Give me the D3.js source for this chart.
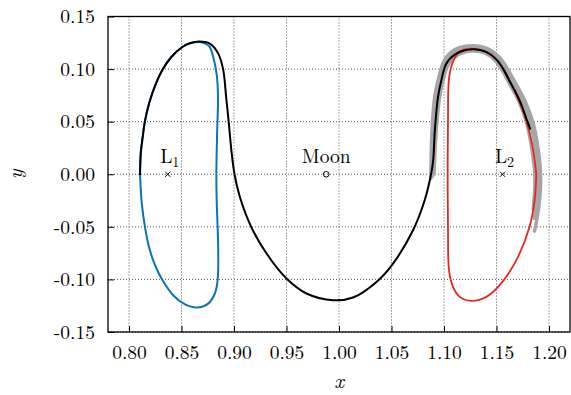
<!DOCTYPE html>
<html>
<head>
<meta charset="utf-8">
<script src="https://cdn.jsdelivr.net/npm/d3@7"></script>
<style>
  body { margin: 0; background: #fff; }
  svg text { font-family: "Latin Modern Roman", "Liberation Serif", serif; fill: #000; }
</style>
</head>
<body>
<figure id="orbits" style="margin:0"></figure>
<script>
// tick values
const xTicks = [0.80, 0.85, 0.90, 0.95, 1.00, 1.05, 1.10, 1.15, 1.20];
const yTicks = [-0.15, -0.10, -0.05, 0.00, 0.05, 0.10, 0.15];

// points of interest
const points = [
  {name: "L", sub: "1", x: 0.8369, y: 0, mark: "cross"},
  {name: "Moon", sub: "", x: 0.98785, y: 0, mark: "circle"},
  {name: "L", sub: "2", x: 1.1557, y: 0, mark: "cross"}
];

// periodic orbit around L1 (blue)
const orbitL1 = [
  [0.8105, 0.0], [0.8112, 0.020], [0.8130, 0.035], [0.8151, 0.050], [0.8193, 0.068],
  [0.8256, 0.0862], [0.8323, 0.100], [0.8403, 0.1115], [0.8508, 0.121], [0.8580, 0.1245],
  [0.8659, 0.1258], [0.8720, 0.1245], [0.8765, 0.1215], [0.8802, 0.1115], [0.8834, 0.0957],
  [0.8848, 0.0735], [0.8840, 0.042], [0.8832, 0.0], [0.8836, -0.028], [0.8844, -0.050],
  [0.8850, -0.0754], [0.8844, -0.1008], [0.8818, -0.1134], [0.8754, -0.1230], [0.8644, -0.1267],
  [0.8530, -0.1235], [0.8421, -0.1150], [0.8320, -0.1008], [0.8250, -0.087], [0.8190, -0.069],
  [0.8152, -0.050], [0.8122, -0.028], [0.8105, 0.0]
];

// periodic orbit around L2 (red)
const orbitL2 = [
  [1.1879, 0.0], [1.1863, -0.0247], [1.1815, -0.050], [1.1689, -0.0817], [1.1530, -0.1055],
  [1.1403, -0.1166], [1.1260, -0.1204], [1.1150, -0.1166], [1.1086, -0.1071], [1.1048, -0.0913],
  [1.1038, -0.050], [1.1035, 0.0], [1.1038, 0.050], [1.1048, 0.0913], [1.1086, 0.1071],
  [1.1150, 0.1166], [1.1260, 0.1195], [1.1403, 0.1160], [1.1520, 0.1070], [1.1640, 0.0860],
  [1.1760, 0.0580], [1.1840, 0.0280], [1.1879, 0.0]
];

// transfer trajectory (black)
const transfer = [
  [0.8105, 0.0], [0.8112, 0.020], [0.8130, 0.035], [0.8151, 0.050], [0.8193, 0.068],
  [0.8256, 0.0862], [0.8323, 0.100], [0.8403, 0.1115], [0.8508, 0.121], [0.8580, 0.1245],
  [0.8665, 0.1262], [0.8770, 0.1242], [0.8850, 0.1147], [0.8897, 0.0995], [0.8925, 0.0735],
  [0.8950, 0.0494], [0.8975, 0.0228], [0.9005, 0.0], [0.9056, -0.0216], [0.9167, -0.0507],
  [0.9310, -0.0754], [0.9500, -0.0992], [0.9690, -0.1134], [0.9944, -0.1198], [1.0134, -0.1172],
  [1.0357, -0.1024], [1.0515, -0.0849], [1.0705, -0.0532], [1.0816, -0.0247], [1.0878, 0.0007],
  [1.0897, 0.0133], [1.0913, 0.0418], [1.0943, 0.0735], [1.0975, 0.0894], [1.1022, 0.1052],
  [1.1118, 0.1147], [1.1276, 0.1188], [1.1403, 0.1163], [1.1500, 0.1090], [1.1567, 0.0995],
  [1.1620, 0.0894], [1.1720, 0.0703], [1.1795, 0.0500], [1.1820, 0.0434]
];

// neighbouring trajectories (gray)
const grayA = [
  [1.0875, -0.004], [1.0885, 0.040], [1.0912, 0.074], [1.0952, 0.0925], [1.1005, 0.1085],
  [1.1105, 0.1185], [1.1276, 0.1222], [1.1415, 0.1195], [1.1525, 0.1115], [1.1600, 0.1010],
  [1.1660, 0.0905], [1.1765, 0.0710], [1.1845, 0.0500], [1.1895, 0.0250], [1.1920, 0.0],
  [1.1910, -0.0250], [1.1880, -0.0450], [1.1862, -0.0540]
];
const grayB = [
  [1.0890, -0.002], [1.0905, 0.040], [1.0935, 0.0740], [1.0970, 0.0905], [1.1020, 0.1065],
  [1.1115, 0.1163], [1.1276, 0.1202], [1.1408, 0.1177], [1.1510, 0.1100], [1.1582, 0.1000],
  [1.1640, 0.0898], [1.1742, 0.0705], [1.1820, 0.0500], [1.1870, 0.0250], [1.1895, 0.0],
  [1.1885, -0.0230], [1.1860, -0.0420]
];
const grayC = [
  [1.0905, 0.000], [1.0925, 0.040], [1.0958, 0.0735], [1.0990, 0.0885], [1.1040, 0.1040],
  [1.1130, 0.1135], [1.1276, 0.1172], [1.1398, 0.1148], [1.1490, 0.1078], [1.1557, 0.0985],
  [1.1610, 0.0885], [1.1710, 0.0700], [1.1785, 0.0500], [1.1835, 0.0250], [1.1865, 0.0],
  [1.1862, -0.0180], [1.1850, -0.0330]
];

const W = 571, H = 395;
const margin = {left: 108, right: 1, top: 16.5, bottom: 63};
const width = W - margin.left - margin.right;
const height = H - margin.top - margin.bottom;
const serif = '"Latin Modern Roman", "Liberation Serif", serif';

const svg = d3.select("figure#orbits")
  .append("svg")
  .attr("width", W)
  .attr("height", H);

const x = d3.scaleLinear().domain([0.78, 1.22]).range([margin.left, margin.left + width]);
const y = d3.scaleLinear().domain([-0.15, 0.15]).range([margin.top + height, margin.top]);

// grid
const grid = svg.append("g");
grid.selectAll("line.vx")
  .data(xTicks)
  .enter()
  .append("line")
  .attr("x1", d => x(d)).attr("x2", d => x(d))
  .attr("y1", margin.top).attr("y2", margin.top + height)
  .attr("stroke", "#555").attr("stroke-width", 1).attr("stroke-dasharray", "1,2");
grid.selectAll("line.hy")
  .data(yTicks)
  .enter()
  .append("line")
  .attr("x1", margin.left).attr("x2", margin.left + width)
  .attr("y1", d => y(d)).attr("y2", d => y(d))
  .attr("stroke", "#555").attr("stroke-width", 1).attr("stroke-dasharray", "1,2");

// axes with inward ticks
const fmt = d => d3.format(".2f")(d).replace("−", "-");
svg.append("g")
  .attr("transform", "translate(0," + (margin.top + height) + ")")
  .call(d3.axisBottom(x).tickValues(xTicks).tickSize(-6).tickPadding(13).tickFormat(fmt))
  .call(g => g.select(".domain").remove())
  .call(g => g.selectAll("text").attr("font-size", 19.5).style("font-family", serif));
svg.append("g")
  .attr("transform", "translate(" + margin.left + ",0)")
  .call(d3.axisLeft(y).tickValues(yTicks).tickSize(-6).tickPadding(13).tickFormat(fmt))
  .call(g => g.select(".domain").remove())
  .call(g => g.selectAll("text").attr("font-size", 19.5).style("font-family", serif));

// curves
const line = d3.line()
  .x(d => x(d[0]))
  .y(d => y(d[1]))
  .curve(d3.curveCatmullRom.alpha(0.5));

const curves = svg.append("g").attr("fill", "none").attr("stroke-linejoin", "round").attr("stroke-linecap", "round");
[grayA, grayB, grayC].forEach(g => {
  curves.append("path").attr("d", line(g)).attr("stroke", "#a6a6a6").attr("stroke-width", 3.5);
});
curves.append("path").attr("d", line(orbitL2)).attr("stroke", "#e8281e").attr("stroke-width", 1.8);
curves.append("path").attr("d", line(orbitL1)).attr("stroke", "#0a74b8").attr("stroke-width", 2);
curves.append("path").attr("d", line(transfer)).attr("stroke", "#000").attr("stroke-width", 2);

// markers and labels
const marks = svg.append("g");
points.forEach(p => {
  const cx = x(p.x), cy = y(p.y);
  if (p.mark === "cross") {
    marks.append("path")
      .attr("d", `M${cx - 2.5},${cy - 2.5}L${cx + 2.5},${cy + 2.5}M${cx - 2.5},${cy + 2.5}L${cx + 2.5},${cy - 2.5}`)
      .attr("stroke", "#000").attr("stroke-width", 1);
  } else {
    marks.append("circle").attr("cx", cx).attr("cy", cy).attr("r", 2.8)
      .attr("fill", "none").attr("stroke", "#000").attr("stroke-width", 1);
  }
  const t = marks.append("text")
    .attr("x", cx + (p.sub ? 2 : 0)).attr("y", cy - 11)
    .attr("text-anchor", "middle")
    .attr("font-size", 19.5)
    .style("font-family", serif)
    .text(p.name);
  if (p.sub) {
    t.append("tspan").attr("font-size", 14).attr("dy", 3.5).text(p.sub);
  }
});

// frame
svg.append("rect")
  .attr("x", margin.left).attr("y", margin.top)
  .attr("width", width).attr("height", height)
  .attr("fill", "none").attr("stroke", "#000").attr("stroke-width", 1.3);

// axis titles
svg.append("text")
  .attr("x", x(1.0)).attr("y", 388)
  .attr("text-anchor", "middle").attr("font-style", "italic").attr("font-size", 21)
  .style("font-family", serif)
  .text("x");
svg.append("text")
  .attr("transform", "translate(22," + y(0) + ") rotate(-90)")
  .attr("text-anchor", "middle").attr("font-style", "italic").attr("font-size", 20)
  .style("font-family", serif)
  .text("y");
</script>
</body>
</html>
